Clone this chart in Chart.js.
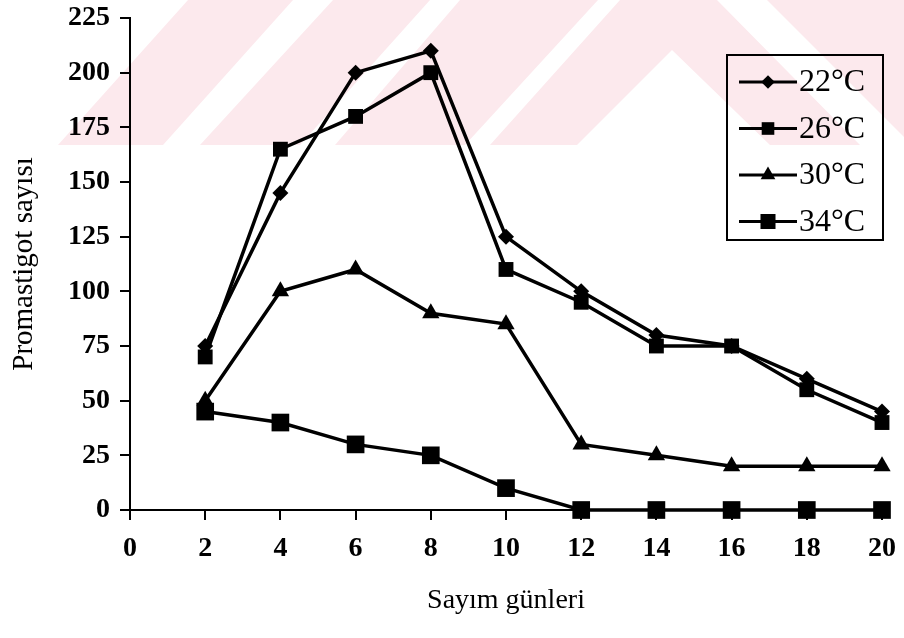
<!DOCTYPE html>
<html>
<head>
<meta charset="utf-8">
<script src="https://cdn.jsdelivr.net/npm/chart.js@4"></script>
<style>
  html, body { margin: 0; padding: 0; background: #fff; }
  #wrap { width: 904px; height: 638px; }
</style>
</head>
<body>
<div id="wrap"><canvas id="chart"></canvas></div>
<script>
// counting days (x) and promastigote counts per temperature
const days = [2, 4, 6, 8, 10, 12, 14, 16, 18, 20];
const temp22 = [75, 145, 200, 210, 125, 100, 80, 75, 60, 45];
const temp26 = [70, 165, 180, 200, 110, 95, 75, 75, 55, 40];
const temp30 = [50, 100, 110, 90, 85, 30, 25, 20, 20, 20];
const temp34 = [45, 40, 30, 25, 10, 0, 0, 0, 0, 0];
const seriesLabels = ['22°C', '26°C', '30°C', '34°C'];

const serif = "'Liberation Serif', 'Times New Roman', serif";

function toPoints(values) {
  return days.map((d, i) => ({ x: d, y: values[i] }));
}

// faint pink watermark from the scanned page
const watermark = {
  id: 'watermark',
  beforeDraw(chart) {
    const ctx = chart.ctx;
    const shapes = [
      [[58, 145], [163, 145], [293, 0], [188, 0]],
      [[200, 145], [300, 145], [430, 0], [333, 0]],
      [[335, 145], [465, 145], [598, 0], [460, 0]],
      [[490, 145], [577, 145], [672, 50], [770, 145], [860, 145], [717, 0], [620, 0]],
      [[767, 0], [904, 0], [904, 137]]
    ];
    ctx.save();
    ctx.fillStyle = '#fce9ed';
    shapes.forEach(s => {
      ctx.beginPath();
      s.forEach((p, i) => i ? ctx.lineTo(p[0], p[1]) : ctx.moveTo(p[0], p[1]));
      ctx.closePath();
      ctx.fill();
    });
    ctx.restore();
  }
};

// boxed legend inside the plot, top right
const boxLegend = {
  id: 'boxLegend',
  afterDraw(chart) {
    const ctx = chart.ctx;
    const area = chart.chartArea;
    const right = area.right + 1;
    const left = right - 156;
    const top = area.top + 37;
    const bottom = top + 185;
    ctx.save();
    ctx.strokeStyle = '#000';
    ctx.lineWidth = 2;
    ctx.strokeRect(left, top, right - left, bottom - top);
    chart.data.datasets.forEach((ds, i) => {
      const y = top + 27 + i * 46.5;
      ctx.beginPath();
      ctx.lineWidth = 3;
      ctx.moveTo(left + 12, y);
      ctx.lineTo(left + 70, y);
      ctx.stroke();
      ctx.fillStyle = '#000';
      Chart.helpers.drawPoint(ctx, {
        pointStyle: ds.pointStyle,
        radius: ds.pointRadius * 0.85,
        rotation: 0,
        borderWidth: 0
      }, left + 41, y);
      ctx.font = '32px ' + serif;
      ctx.textBaseline = 'middle';
      ctx.textAlign = 'left';
      ctx.fillText(ds.label, left + 72, y + 1);
    });
    ctx.restore();
  }
};

function makeSet(label, values, style, radius) {
  return {
    label: label,
    data: toPoints(values),
    borderColor: '#000',
    backgroundColor: '#000',
    borderWidth: 3.5,
    pointStyle: style,
    pointRadius: radius,
    pointHoverRadius: radius,
    pointBorderWidth: 0,
    pointBackgroundColor: '#000',
    tension: 0,
    clip: false
  };
}

new Chart(document.getElementById('chart'), {
  type: 'line',
  data: {
    datasets: [
      makeSet(seriesLabels[0], temp22, 'rectRot', 8),
      makeSet(seriesLabels[1], temp26, 'rect', 10.5),
      makeSet(seriesLabels[2], temp30, 'triangle', 10),
      makeSet(seriesLabels[3], temp34, 'rect', 12.5)
    ]
  },
  options: {
    responsive: true,
    maintainAspectRatio: false,
    animation: false,
    layout: { padding: { top: 18, right: 22, bottom: 0, left: 0 } },
    plugins: {
      legend: { display: false },
      tooltip: { enabled: false }
    },
    scales: {
      x: {
        type: 'linear',
        min: 0,
        max: 20,
        ticks: {
          stepSize: 2,
          color: '#000',
          padding: 12,
          maxRotation: 0,
          font: { family: serif, size: 28, weight: 'bold' }
        },
        grid: { drawOnChartArea: false, drawTicks: true, tickLength: 10, color: '#000', lineWidth: 2 },
        border: { color: '#000', width: 2 },
        title: {
          display: true,
          text: 'Sayım günleri',
          color: '#000',
          padding: { top: 0, bottom: 21 },
          font: { family: serif, size: 28 }
        },
        afterFit(scale) {
          scale.height = 128;
          scale.paddingLeft = 0;
          scale.paddingRight = 0;
        }
      },
      y: {
        min: 0,
        max: 225,
        ticks: {
          stepSize: 25,
          color: '#000',
          padding: 10,
          font: { family: serif, size: 28, weight: 'bold' }
        },
        grid: { drawOnChartArea: false, drawTicks: true, tickLength: 10, color: '#000', lineWidth: 2 },
        border: { color: '#000', width: 2 },
        title: {
          display: true,
          text: 'Promastigot sayısı',
          color: '#000',
          padding: { top: 7, bottom: 0 },
          font: { family: serif, size: 29 }
        },
        afterFit(scale) {
          scale.width = 130;
          scale.paddingTop = 0;
          scale.paddingBottom = 0;
        }
      }
    }
  },
  plugins: [watermark, boxLegend]
});
</script>
</body>
</html>
